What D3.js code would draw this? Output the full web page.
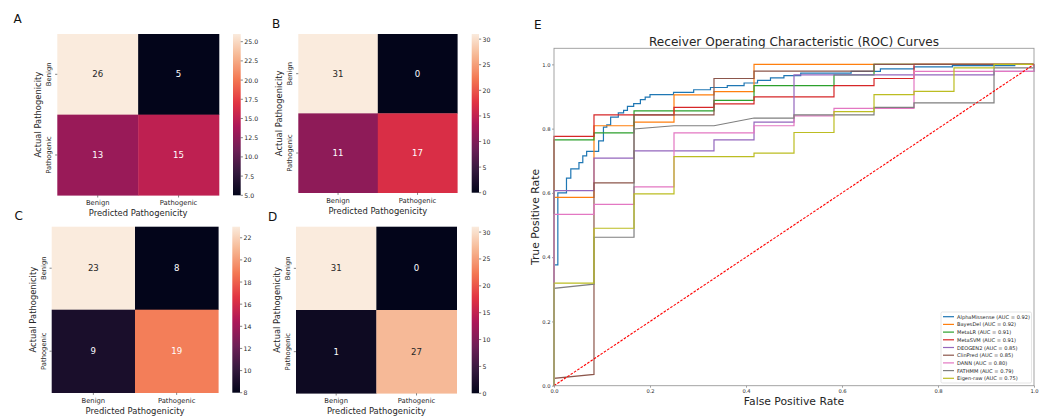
<!DOCTYPE html>
<html><head><meta charset="utf-8">
<script src="https://cdn.jsdelivr.net/npm/d3@7"></script>
<style>
html,body{margin:0;padding:0;background:#fff;}
svg{display:block;font-family:"DejaVu Sans",sans-serif;}
</style></head>
<body>
<svg id="chart" width="1044" height="417"></svg>
<script>
// ---------------- DATA ----------------
const categories = ["Benign", "Pathogenic"];
const matrixA = [[26, 5], [13, 15]];
const matrixB = [[31, 0], [11, 17]];
const matrixC = [[23, 8], [9, 19]];
const matrixD = [[31, 0], [1, 27]];
const cbTicksA = [5, 7.5, 10, 12.5, 15, 17.5, 20, 22.5, 25];
const cbTicksB = [0, 5, 10, 15, 20, 25, 30];
const cbTicksC = [8, 10, 12, 14, 16, 18, 20, 22];
const cbTicksD = [0, 5, 10, 15, 20, 25, 30];
const heatXLabel = "Predicted Pathogenicity";
const heatYLabel = "Actual Pathogenicity";

const rocTitle = "Receiver Operating Characteristic (ROC) Curves";
const rocXLabel = "False Positive Rate";
const rocYLabel = "True Positive Rate";
const rocTicks = [0, 0.2, 0.4, 0.6, 0.8, 1.0];
const modelNames = ["AlphaMissense", "BayesDel", "MetaLR", "MetaSVM", "DEOGEN2", "ClinPred", "DANN", "FATHMM", "Eigen-raw"];
const modelAUC = [0.92, 0.92, 0.91, 0.91, 0.85, 0.85, 0.80, 0.79, 0.75];

const rocAlphaMissense = [[0,0],[0,0.376],[0.008,0.376],[0.008,0.6],[0.026,0.6],[0.026,0.646],[0.035,0.646],[0.035,0.675],[0.052,0.675],[0.052,0.694],[0.06,0.694],[0.06,0.715],[0.068,0.715],[0.068,0.729],[0.093,0.729],[0.093,0.762],[0.103,0.762],[0.103,0.805],[0.11,0.805],[0.11,0.812],[0.118,0.812],[0.118,0.836],[0.134,0.836],[0.134,0.849],[0.145,0.849],[0.145,0.857],[0.153,0.857],[0.153,0.869],[0.166,0.869],[0.166,0.878],[0.18,0.878],[0.18,0.89],[0.19,0.89],[0.19,0.898],[0.2,0.898],[0.2,0.906],[0.249,0.906],[0.249,0.913],[0.291,0.913],[0.291,0.921],[0.326,0.921],[0.326,0.928],[0.361,0.928],[0.361,0.934],[0.396,0.934],[0.396,0.942],[0.424,0.942],[0.424,0.95],[0.451,0.95],[0.451,0.958],[0.479,0.958],[0.479,0.965],[0.514,0.965],[0.514,0.973],[0.619,0.973],[0.619,0.978],[0.68,0.978],[0.68,0.986],[0.75,0.986],[0.75,0.992],[0.83,0.992],[0.83,0.996],[0.96,0.996],[0.96,1],[1,1]];
const rocBayesDel = [[0,0],[0,0.586],[0.0833,0.586],[0.0833,0.809],[0.1667,0.809],[0.1667,0.82],[0.25,0.82],[0.25,0.905],[0.3333,0.905],[0.3333,0.915],[0.4167,0.915],[0.4167,1],[1,1]];
const rocMetaLR = [[0,0],[0,0.765],[0.0833,0.765],[0.0833,0.787],[0.1667,0.787],[0.1667,0.855],[0.3333,0.855],[0.3333,0.888],[0.4167,0.888],[0.4167,0.934],[0.5833,0.934],[0.5833,0.967],[0.6667,0.967],[0.6667,1],[1,1]];
const rocMetaSVM = [[0,0],[0,0.776],[0.0833,0.776],[0.0833,0.843],[0.25,0.843],[0.25,0.866],[0.3333,0.866],[0.3333,0.877],[0.4167,0.877],[0.4167,0.899],[0.5833,0.899],[0.5833,0.934],[0.6667,0.934],[0.6667,0.956],[0.75,0.956],[0.75,1],[1,1]];
const rocDEOGEN2 = [[0,0],[0,0.607],[0.0833,0.607],[0.0833,0.708],[0.1667,0.708],[0.1667,0.731],[0.3333,0.731],[0.3333,0.765],[0.4167,0.765],[0.4167,0.82],[0.5,0.82],[0.5,0.967],[0.9167,0.967],[0.9167,0.978],[1,0.978],[1,1]];
const rocClinPred = [[0,0],[0,0.023],[0.0833,0.035],[0.0833,0.631],[0.1667,0.631],[0.1667,0.843],[0.3333,0.843],[0.3333,0.956],[0.4167,0.956],[0.4167,0.979],[0.6667,0.979],[0.6667,1],[1,1]];
const rocDANN = [[0,0],[0,0.533],[0.0833,0.533],[0.0833,0.564],[0.1667,0.564],[0.1667,0.619],[0.25,0.619],[0.25,0.787],[0.4167,0.787],[0.4167,0.809],[0.5,0.809],[0.5,0.84],[0.5833,0.84],[0.5833,0.863],[0.75,0.863],[0.75,0.978],[1,0.978],[1,1]];
const rocFATHMM = [[0,0],[0,0.303],[0.0833,0.316],[0.0833,0.462],[0.1667,0.462],[0.1667,0.799],[0.25,0.809],[0.3333,0.809],[0.4167,0.833],[0.5,0.833],[0.5,0.843],[0.6667,0.843],[0.6667,0.866],[0.75,0.866],[0.75,0.88],[0.9167,0.88],[0.9167,0.989],[1,0.989],[1,1]];
const rocEigenRaw = [[0,0],[0,0.319],[0.0833,0.319],[0.0833,0.49],[0.1667,0.49],[0.1667,0.597],[0.25,0.597],[0.25,0.713],[0.4167,0.713],[0.4167,0.724],[0.5,0.724],[0.5,0.788],[0.5833,0.788],[0.5833,0.853],[0.6667,0.853],[0.6667,0.906],[0.75,0.906],[0.75,0.916],[0.8333,0.916],[0.8333,0.989],[0.9167,0.989],[0.9167,1],[1,1]];
const rocSeries = [rocAlphaMissense, rocBayesDel, rocMetaLR, rocMetaSVM, rocDEOGEN2, rocClinPred, rocDANN, rocFATHMM, rocEigenRaw];

// ---------------- STYLE ----------------
const tab10 = ["#1f77b4","#ff7f0e","#2ca02c","#d62728","#9467bd","#8c564b","#e377c2","#7f7f7f","#bcbd22"];
const rocketStops = ["#03051a","#35193e","#701f57","#ad1759","#e13342","#f37651","#f6b48f","#faebdd"];
const rocket = d3.scaleLinear()
  .domain(rocketStops.map((_, i) => i / (rocketStops.length - 1)))
  .range(rocketStops).interpolate(d3.interpolateRgb);

const svg = d3.select("#chart");
const FONT_TXT = "#262626";

function luminance(c) {
  const rgb = d3.rgb(c);
  const f = v => { v /= 255; return v <= 0.03928 ? v / 12.92 : Math.pow((v + 0.055) / 1.055, 2.4); };
  return 0.2126 * f(rgb.r) + 0.7152 * f(rgb.g) + 0.0722 * f(rgb.b);
}

let gradId = 0;
function heatmap(matrix, cbTicks, fmt, L, letter) {
  const g = svg.append("g");
  const ext = d3.extent(matrix.flat());
  const norm = d3.scaleLinear().domain(ext).range([0, 1]);
  const x = d3.scaleBand().domain(categories).range([L.x0, L.x1]);
  const y = d3.scaleBand().domain(categories).range([L.y0, L.y1]);
  matrix.forEach((row, i) => row.forEach((v, j) => {
    const col = rocket(norm(v));
    g.append("rect").attr("x", x(categories[j])).attr("y", y(categories[i]))
      .attr("width", x.bandwidth() + 0.3).attr("height", y.bandwidth() + 0.3).attr("fill", col);
    g.append("text").attr("x", x(categories[j]) + x.bandwidth() / 2)
      .attr("y", y(categories[i]) + y.bandwidth() / 2)
      .attr("text-anchor", "middle").attr("dominant-baseline", "central")
      .attr("font-size", 8.6).attr("fill", luminance(col) > 0.408 ? FONT_TXT : "#ffffff")
      .text(v);
  }));
  // ticks
  categories.forEach(c => {
    const cx = x(c) + x.bandwidth() / 2;
    g.append("line").attr("x1", cx).attr("x2", cx).attr("y1", L.y1).attr("y2", L.y1 + 2.2).attr("stroke", "#333").attr("stroke-width", 0.6);
    g.append("text").attr("x", cx).attr("y", L.y1 + 7.8).attr("text-anchor", "middle")
      .attr("dominant-baseline", "central").attr("font-size", 6.8).attr("fill", FONT_TXT).text(c);
    const cy = y(c) + y.bandwidth() / 2;
    g.append("line").attr("x1", L.x0 - 2.2).attr("x2", L.x0).attr("y1", cy).attr("y2", cy).attr("stroke", "#333").attr("stroke-width", 0.6);
    g.append("text").attr("transform", `translate(${L.x0 - 8},${cy}) rotate(-90)`).attr("text-anchor", "middle")
      .attr("dominant-baseline", "central").attr("font-size", 6.8).attr("fill", FONT_TXT).text(c);
  });
  g.append("text").attr("x", (L.x0 + L.x1) / 2).attr("y", L.y1 + 18).attr("text-anchor", "middle")
    .attr("dominant-baseline", "central").attr("font-size", 8.4).attr("fill", FONT_TXT).text(heatXLabel);
  g.append("text").attr("transform", `translate(${L.x0 - 19},${(L.y0 + L.y1) / 2}) rotate(-90)`).attr("text-anchor", "middle")
    .attr("dominant-baseline", "central").attr("font-size", 8.4).attr("fill", FONT_TXT).text(heatYLabel);
  // colorbar
  const id = "grad" + (gradId++);
  const grad = svg.append("defs").append("linearGradient").attr("id", id)
    .attr("x1", 0).attr("y1", 1).attr("x2", 0).attr("y2", 0);
  d3.range(0, 1.0001, 0.02).forEach(t => grad.append("stop").attr("offset", t).attr("stop-color", rocket(t)));
  g.append("rect").attr("x", L.cx0).attr("y", L.y0).attr("width", L.cx1 - L.cx0).attr("height", L.y1 - L.y0).attr("fill", `url(#${id})`);
  const cy = d3.scaleLinear().domain(ext).range([L.y1, L.y0]);
  cbTicks.forEach(t => {
    g.append("line").attr("x1", L.cx1).attr("x2", L.cx1 + 2.2).attr("y1", cy(t)).attr("y2", cy(t)).attr("stroke", "#333").attr("stroke-width", 0.6);
    g.append("text").attr("x", L.cx1 + 3.6).attr("y", cy(t)).attr("dominant-baseline", "central")
      .attr("font-size", 6.2).attr("fill", FONT_TXT).text(fmt(t));
  });
  g.append("text").attr("x", L.lx).attr("y", L.ly).attr("font-size", 12).attr("fill", "#111").text(letter);
}

heatmap(matrixA, cbTicksA, d3.format(".1f"), {x0: 57.3, x1: 219, y0: 34, y1: 195.3, cx0: 233, cx1: 240.7, lx: 13.5, ly: 23.3}, "A");
heatmap(matrixB, cbTicksB, d3.format("d"), {x0: 298.3, x1: 457.3, y0: 34, y1: 192.7, cx0: 471.7, cx1: 479, lx: 272, ly: 28.3}, "B");
heatmap(matrixC, cbTicksC, d3.format("d"), {x0: 51.7, x1: 218.3, y0: 226.7, y1: 392.7, cx0: 232.3, cx1: 240, lx: 14.5, ly: 220}, "C");
heatmap(matrixD, cbTicksD, d3.format("d"), {x0: 296, x1: 456.7, y0: 226.7, y1: 393.3, cx0: 471.7, cx1: 479, lx: 268, ly: 220.7}, "D");

// ---------------- ROC ----------------
const R = {x0: 554, x1: 1034, yTop: 48.3, yZero: 385.7};
const xs = d3.scaleLinear().domain([0, 1]).range([R.x0, R.x1]);
const ys = d3.scaleLinear().domain([0, 1.05]).range([R.yZero, R.yTop]);
const rg = svg.append("g");
rg.append("text").attr("x", 534).attr("y", 29.3).attr("font-size", 12).attr("fill", "#111").text("E");
rg.append("text").attr("x", (R.x0 + R.x1) / 2).attr("y", 45.5).attr("text-anchor", "middle")
  .attr("font-size", 12.1).attr("fill", FONT_TXT).text(rocTitle);

const xAxis = d3.axisBottom(xs).tickValues(rocTicks).tickFormat(d3.format(".1f")).tickSize(2).tickPadding(1.5);
const yAxis = d3.axisLeft(ys).tickValues(rocTicks).tickFormat(d3.format(".1f")).tickSize(2).tickPadding(1.5);
const gx = rg.append("g").attr("transform", `translate(0,${R.yZero})`).call(xAxis);
const gy = rg.append("g").attr("transform", `translate(${R.x0},0)`).call(yAxis);
[gx, gy].forEach(a => {
  a.select(".domain").remove();
  a.selectAll("text").attr("font-size", 5.2).attr("font-family", "DejaVu Sans").attr("fill", FONT_TXT);
  a.selectAll("line").attr("stroke", "#444").attr("stroke-width", 0.5);
});

const line = d3.line().x(d => xs(d[0])).y(d => ys(d[1]));
rocSeries.forEach((s, i) => {
  rg.append("path").datum(s).attr("d", line).attr("fill", "none")
    .attr("stroke", tab10[i]).attr("stroke-width", 1.2).attr("stroke-linejoin", "miter");
});
rg.append("path").datum([[0, 0], [1, 1]]).attr("d", line).attr("fill", "none")
  .attr("stroke", "#ff0000").attr("stroke-width", 1.1).attr("stroke-dasharray", "2.6,1.4");

rg.append("rect").attr("x", R.x0).attr("y", R.yTop).attr("width", R.x1 - R.x0).attr("height", R.yZero - R.yTop)
  .attr("fill", "none").attr("stroke", "#9a9a9a").attr("stroke-width", 0.9);

rg.append("text").attr("x", (R.x0 + R.x1) / 2).attr("y", 401).attr("text-anchor", "middle")
  .attr("dominant-baseline", "central").attr("font-size", 10.8).attr("fill", FONT_TXT).text(rocXLabel);
rg.append("text").attr("transform", `translate(535,${(R.yTop + R.yZero) / 2}) rotate(-90)`).attr("text-anchor", "middle")
  .attr("dominant-baseline", "central").attr("font-size", 10.8).attr("fill", FONT_TXT).text(rocYLabel);

// legend
const lg = rg.append("g");
lg.append("rect").attr("x", 941).attr("y", 312).attr("width", 90.5).attr("height", 71).attr("rx", 1.5)
  .attr("fill", "#fff").attr("fill-opacity", 0.8).attr("stroke", "#d5d5d5").attr("stroke-width", 0.6);
modelNames.forEach((n, i) => {
  const yy = 316.7 + i * 7.7;
  lg.append("line").attr("x1", 943).attr("x2", 954).attr("y1", yy).attr("y2", yy).attr("stroke", tab10[i]).attr("stroke-width", 1.2);
  lg.append("text").attr("x", 957).attr("y", yy).attr("dominant-baseline", "central").attr("font-size", 5.1)
    .attr("fill", FONT_TXT).text(`${n} (AUC = ${modelAUC[i].toFixed(2)})`);
});
</script>
</body></html>
